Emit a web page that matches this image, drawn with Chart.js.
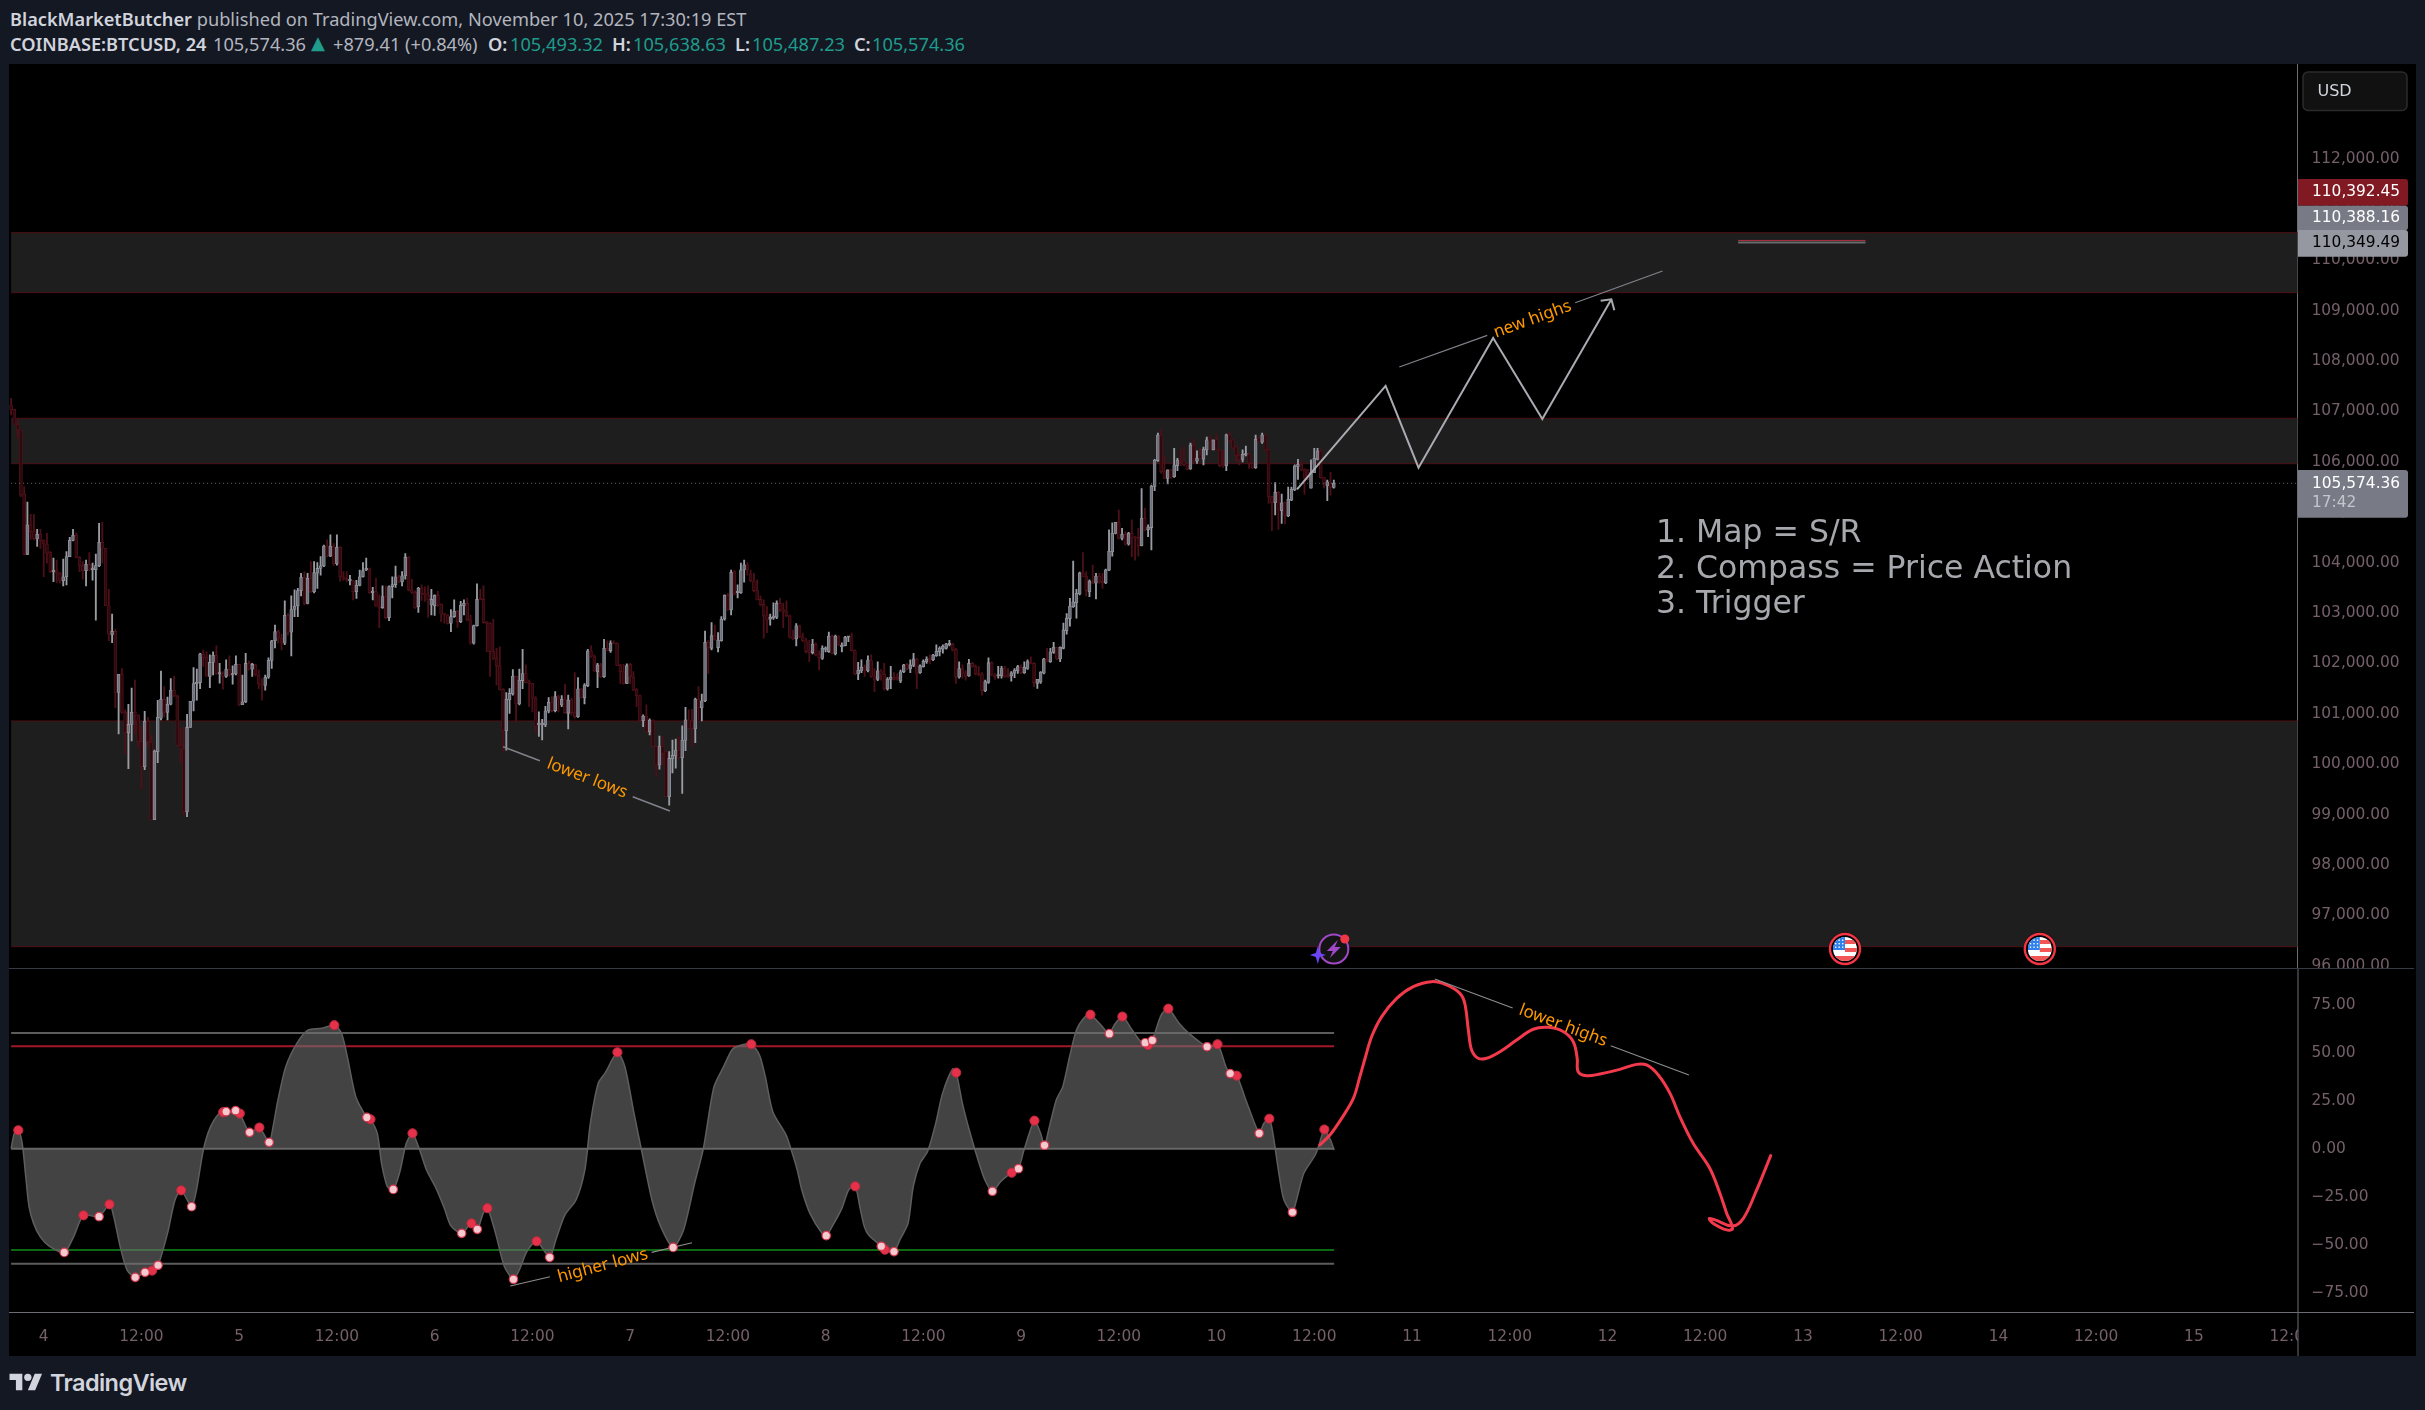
<!DOCTYPE html>
<html>
<head>
<meta charset="utf-8">
<title>BTCUSD</title>
<script src="https://cdn.jsdelivr.net/npm/chart.js@4"></script>
<style>
html, body { margin: 0; background: #141823; width: 2425px; height: 1410px; overflow: hidden; }
canvas { position: absolute; display: block; background: #000; }
.hd { position: absolute; font: 18.2px "Noto Sans"; color: #b2b5be; white-space: pre; }
.hd b { color: #d1d4dc; font-weight: 600; }
.up { color: #1f9c8b; }
#logo { position: absolute; left: 9px; top: 1370px; }
#brand { position: absolute; left: 50px; top: 1368px; font: 600 23.5px Inter; color: #d1d4dc; letter-spacing: -0.6px; }
</style>
</head>
<body>
<div class="hd" style="left:10px;top:7px"><b>BlackMarketButcher</b> published on TradingView.com, November 10, 2025 17:30:19 EST</div>
<div class="hd" style="left:10px;top:32px"><b>COINBASE:BTCUSD, 24</b></div>
<div class="hd" style="left:213px;top:32px">105,574.36</div>
<div class="hd up" style="left:311px;top:32px;font-family:'DejaVu Sans'">▲</div>
<div class="hd" style="left:333px;top:32px">+879.41 (+0.84%)</div>
<div class="hd" style="left:488px;top:32px"><b>O:</b></div>
<div class="hd up" style="left:510px;top:32px">105,493.32</div>
<div class="hd" style="left:612px;top:32px"><b>H:</b></div>
<div class="hd up" style="left:633px;top:32px">105,638.63</div>
<div class="hd" style="left:735px;top:32px"><b>L:</b></div>
<div class="hd up" style="left:752px;top:32px">105,487.23</div>
<div class="hd" style="left:854px;top:32px"><b>C:</b></div>
<div class="hd up" style="left:872px;top:32px">105,574.36</div>
<canvas id="priceChart" width="2407" height="904" style="left:9px;top:64px"></canvas>
<canvas id="oscChart" width="2407" height="388" style="left:9px;top:968px"></canvas>
<svg id="logo" width="34" height="22" viewBox="0 0 36 24" fill="#d1d4dc"><path d="M14 22H7V11H0V4h14v18zM28 22h-8l7.5-18h8L28 22z"/><circle cx="20" cy="8" r="4"/></svg>
<div id="brand">TradingView</div>
<script>
// 24 minute bars, x is the bar number counted from Nov 4 00:00
const firstBar = -10;
const opens = [
107130,107040,106745,106630,105355,104165,104750,104630,104470,104560,
104435,104370,104205,103820,103840,103795,103640,103720,104120,104440,
104540,104105,103940,103840,103965,103860,103860,103940,104405,104285,
103145,102570,102635,101425,101785,101030,100625,100790,101030,100975,
100450,99950,100850,100435,98900,100250,100910,101290,101030,101190,
101465,101355,100370,100300,99060,100730,101250,101600,101620,102190,
102120,101740,102020,102160,101790,101800,101740,101885,101770,101790,
101980,101175,101240,102000,101885,101970,101770,101590,101565,101725,
102060,102450,102630,102500,102400,102955,102620,103070,103140,103445,
103710,103190,103690,103425,103790,103885,103935,104330,104130,104330,
103975,104305,103720,103675,103640,103640,103425,103550,103720,103855,
103875,103405,103425,103145,103105,103325,102910,103525,103565,103720,
103615,103740,104105,103455,103410,103125,103490,103390,103360,103160,
103145,103350,103175,102975,102960,102795,102930,103035,102830,103146,
103190,102860,102400,102750,103270,103270,102810,102795,102235,102100,
101955,101485,100665,101275,101395,101750,101195,101660,101800,101620,
101605,101310,100780,100780,100780,101055,101230,101065,101340,101175,
101290,101010,101275,101025,100945,101495,101320,101560,102250,102145,
101835,101970,101735,102300,102255,102400,102400,101970,101835,101605,
101980,101725,101485,101360,100865,100955,100645,100875,100350,99985,
100360,100250,99355,100110,100165,100280,100130,100470,100880,100860,
100700,101295,101120,101260,102420,102300,102550,102315,102450,102880,
103350,103060,103820,103405,103405,103855,103940,103775,103640,103445,
103270,103170,102960,102880,102910,102915,103190,103070,103025,102945,
102530,102485,102745,102530,102450,102250,102215,102380,102180,102100,
102280,102235,102545,102190,102530,102330,102350,102520,102530,102255,
101790,101850,101925,101855,102055,101750,101685,101855,101785,101495,
101685,101725,101725,101650,101835,101980,101890,101960,102080,101815,
101935,102035,102100,102070,102155,102235,102285,102300,102370,102380,
102280,101725,101900,101815,101750,102000,101950,101790,101790,101460,
101625,102015,101770,101750,101750,101900,101770,101750,101805,101855,
101925,101815,101900,102015,102000,101605,101630,101805,102075,102035,
102220,102320,102090,102300,102650,102890,103125,103205,103380,103795,
103735,103425,103620,103590,103735,103610,103595,103850,104215,104580,
104800,104480,104560,104365,104580,104500,104500,104335,104880,104655,
104695,105510,106025,106530,105805,105670,105840,105705,105925,106035,
106020,105940,105860,106335,106015,106135,106055,106235,106435,106235,
106435,106235,105935,105920,106535,106435,106300,106135,106050,106135,
106150,105970,105885,106465,106390,106535,106250,105310,105190,105395,
105030,105185,104925,105240,105440,105905,105950,105850,105840,105475,
105785,106050,106215,105685,105520,105585,105493];
const highs = [
107260,107040,106860,106630,105510,105200,104960,104960,104660,104660,
104450,104580,104220,104090,104050,103800,104070,104220,104500,104660,
104590,104120,104020,104050,104200,103990,104170,104780,104800,104280,
103470,102980,102680,101780,101900,101080,101190,101510,101670,100980,
100740,101050,100930,100580,100280,101270,101850,101540,101330,101700,
101750,101370,100710,100740,100990,101250,101920,101890,102200,102270,
102230,102170,102230,102350,102000,101840,102070,102150,101950,102150,
101980,101770,102200,102050,102000,101980,101870,101700,101770,102110,
102460,102760,102660,102580,103240,102990,103340,103460,103490,103790,
103820,103790,104020,104020,104000,104120,104350,104450,104550,104380,
104550,104320,103820,103820,103750,103650,103650,103850,104000,104090,
103890,103510,103690,103360,103540,103540,103540,103720,103930,103750,
103820,104180,104120,103670,103440,103510,103560,103520,103540,103470,
103360,103430,103180,102990,102970,103070,103260,103050,103230,103260,
103290,102960,102760,103580,103470,103540,102830,102810,102880,102300,
102330,101500,101420,101500,101880,101750,101890,102280,101970,101670,
101600,101340,101040,100890,101150,101320,101340,101440,101370,101360,
101590,101370,101310,101820,101720,101500,101600,102280,102350,102170,
102000,102000,102480,102450,102450,102450,102410,101980,101980,101990,
102000,101840,101500,101370,100980,101180,100900,100880,100360,100560,
100550,100250,100250,100480,100500,100550,100760,101130,101080,101090,
101310,101540,101390,102640,102460,102810,102760,102610,102930,103360,
103390,103850,103840,103560,103990,104050,104000,103850,103790,103660,
103340,103260,103130,102980,103200,103240,103290,103190,103240,102960,
102660,102790,102760,102600,102500,102460,102480,102410,102250,102350,
102330,102620,102560,102560,102550,102410,102540,102540,102600,102270,
102020,102070,101970,102150,102170,101900,102030,101880,102000,101720,
101940,101820,101800,101870,101980,102000,102070,102200,102100,101970,
102070,102130,102170,102180,102370,102330,102370,102400,102460,102400,
102300,102030,101970,101860,102080,102020,101970,101940,101820,101670,
102110,102030,101800,101940,101940,101940,101900,101840,101900,101960,
101970,102030,102070,102130,102010,101680,101840,102100,102300,102300,
102420,102320,102330,102800,102990,103290,104030,103470,103810,104200,
103820,103660,103950,103790,103790,103790,103870,104650,104790,104800,
105040,104680,104610,104600,104850,104520,104680,105470,105080,104750,
105540,106050,106570,106645,106120,105840,105850,106270,106070,106240,
106300,105940,106370,106450,106220,106270,106290,106490,106530,106430,
106550,106250,106240,106550,106590,106450,106320,106170,106240,106310,
106170,106000,106530,106490,106570,106550,106250,105320,105590,105410,
105360,105200,105500,105500,105940,106050,106020,105860,105850,106040,
106270,106270,106250,105690,105640,105790,105640];
const lows = [
106930,106740,106470,105310,104160,104160,104460,104450,104320,104280,
103720,103990,103800,103620,103600,103590,103540,103560,104120,104430,
104100,103820,103670,103540,103840,103650,102860,103920,103990,103150,
102450,102410,101120,100600,101010,100200,99910,100460,100610,100330,
99510,99890,100350,98900,98900,100030,100880,100940,100880,101175,
101340,100370,100030,98990,98960,100730,101060,101270,101500,101940,
101740,101520,101770,101780,101610,101490,101720,101750,101590,101770,
101160,101180,101220,101870,101740,101750,101500,101270,101470,101700,
101900,102310,102400,102270,102370,102560,102150,102930,102930,103340,
103160,103180,103410,103400,103490,103750,103920,104120,104120,103950,
103950,103630,103650,103620,103560,103260,103290,103540,103710,103840,
103390,103260,103130,102710,103090,102890,102850,103300,103510,103600,
103540,103670,103440,103390,103090,103010,103250,103230,102915,102960,
102950,103130,102830,102800,102780,102630,102915,102715,102810,102960,
102850,102380,102380,102740,103260,102800,102230,101740,102080,101570,
101470,100250,100280,101010,101370,100845,101175,101500,101620,101140,
101040,100610,100550,100480,100745,101020,101040,101040,101040,101140,
101010,100700,100975,100910,100930,101310,101195,101540,102120,101840,
101520,101720,101720,102300,102220,102390,101955,101600,101590,101600,
101600,101460,101140,100845,100745,100630,100580,100350,99750,99900,
99985,99356,99190,99830,99920,100115,99420,100270,100700,100350,
100430,100880,100860,101240,101800,102270,102460,102230,102440,102860,
103050,102960,103360,103300,103390,103610,103750,103620,103420,103260,
103140,102500,102610,102760,102875,102890,103030,102710,102930,102500,
102465,102345,102510,102430,102210,102035,102190,102150,101870,102080,
102230,102220,102190,102170,102345,102230,102345,102430,102250,101770,
101680,101815,101740,101830,101720,101440,101660,101670,101470,101470,
101500,101670,101670,101620,101815,101870,101815,101935,101500,101800,
101925,102000,101990,102055,102140,102150,102205,102285,102345,102250,
101605,101705,101705,101670,101740,101925,101770,101750,101370,101440,
101605,101755,101685,101705,101705,101720,101720,101650,101715,101800,
101800,101800,101880,101990,101540,101505,101605,101790,102035,102020,
102200,102070,102035,102290,102580,102740,103110,102900,103360,103720,
103340,103325,103580,103280,103590,103490,103580,103840,104130,104570,
104470,104450,104345,104345,104120,104050,104130,104330,104635,104515,
104250,105430,106010,105770,105670,105560,105670,105690,105825,105925,
105920,105840,105850,106000,105970,106050,105940,106135,106235,106235,
106235,105905,105890,105825,106400,106255,106000,105940,106000,106115,
105870,105870,105870,106400,106365,106220,105177,104635,104945,104660,
104780,104770,104910,105230,105430,105650,105825,105360,105640,105475,
105785,106036,105670,105475,105230,105340,105475];
const closes = [
107030,106745,106630,105340,104165,104750,104615,104480,104560,104435,
104370,104185,103820,103840,103795,103635,103720,104120,104440,104540,
104105,103940,103840,103965,103855,103875,103940,104405,104285,103145,
102585,102635,101425,101785,101030,100625,100790,101030,100975,100450,
99950,100850,100450,98900,100260,100930,101290,101030,101190,101465,
101355,100370,100300,99060,100730,101250,101600,101620,102190,102120,
101760,102020,102160,101800,101800,101740,101885,101770,101800,101980,
101175,101240,102000,101885,101980,101770,101590,101565,101725,102060,
102450,102630,102500,102400,102955,102620,103070,103140,103445,103710,
103190,103690,103425,103800,103885,103935,104330,104130,104330,103975,
104305,103720,103675,103655,103655,103425,103550,103720,103840,103865,
103405,103430,103140,103105,103325,102910,103525,103565,103720,103615,
103740,104105,103455,103410,103105,103490,103390,103360,103260,103270,
103350,103175,102975,102960,102795,102930,103035,102830,103155,103193,
102860,102400,102750,103270,103260,102810,102795,102235,102100,101955,
101485,100665,101290,101405,101750,101195,101670,101800,101620,101605,
101310,100745,100800,100800,101060,101230,101065,101340,101295,101290,
101025,101275,101025,100945,101495,101325,101570,102250,102145,101850,
101970,101735,102300,102255,102400,102385,101955,101835,101605,101955,
101735,101470,101360,100860,100955,100645,100875,100350,99985,100360,
100215,99355,100115,100175,100280,100130,100480,100880,100710,100710,
101295,101120,101260,102420,102315,102550,102465,102465,102880,103350,
103060,103805,103375,103425,103855,103955,103855,103640,103445,103260,
103160,102940,102860,102915,102930,103190,103060,103025,102945,102520,
102485,102745,102530,102450,102235,102220,102380,102165,102115,102300,
102300,102545,102200,102545,102365,102365,102520,102530,102255,101790,
101870,101925,101870,102070,101740,101685,101855,101770,101495,101685,
101725,101685,101690,101835,101970,101900,101970,102090,101800,101950,
102040,102080,102070,102165,102240,102300,102340,102390,102385,102265,
101735,101900,101805,101735,102000,101935,101790,101770,101460,101640,
102015,101770,101735,101770,101900,101735,101735,101815,101870,101935,
101815,101925,102035,101990,101620,101685,101830,102090,102035,102225,
102320,102090,102320,102665,102895,103140,103220,103390,103795,103720,
103445,103635,103590,103735,103610,103600,103855,104225,104580,104800,
104480,104560,104365,104580,104500,104480,104335,104880,104650,104705,
105520,106035,106530,105805,105670,105840,105695,105940,106035,106005,
105940,105850,106335,106015,106070,106070,106250,106435,106420,106435,
106235,105925,105920,106535,106420,106270,106120,106035,106150,106150,
105970,105885,106445,106400,106535,106235,105310,105190,105395,105045,
105185,104930,105255,105455,105920,105950,105840,105675,105640,105785,
106070,106215,105685,105540,105605,105490,105574];

const priceTicks = [112000,111000,110000,109000,108000,107000,106000,105000,104000,103000,102000,101000,100000,99000,98000,97000,96000];
const oscTicks = [75,50,25,0,-25,-50,-75];
const timeTicks = [0,30,60,90,120,150,180,210,240,270,300,330,360,390,420,450,480,510,540,570,600,630,660,690];
const timeLabels = ['4','12:00','5','12:00','6','12:00','7','12:00','8','12:00','9','12:00','10','12:00','11','12:00','12','12:00','13','12:00','14','12:00','15','12:00'];

// support / resistance zones, [top, bottom]
const zones = [[110546,109356],[106864,105963],[100858,96380]];
const lastPrice = 105574.36;
const plannedHigh = 110392.45;
const plannedLow = 110349.49;
const plannedBars = [520.1,559.2];

const pathBars = [384.7,411.9,422,444.9,460,481.2];
const pathPrices = [105455,107505,105884,108457,106850,109225];
const arrowBars = [477.9,481.2,482.1];
const arrowPrices = [109195,109225,109007];
const highsTrendA = [[416.1,107882],[443.1,108510]];
const highsTrendB = [[470.1,109157],[496.9,109786]];
const lowsTrendA = [[141,100348],[152.3,100070]];
const lowsTrendB = [[180.8,99356],[192.2,99072]];
const noteLines = ['1. Map = S/R','2. Compass = Price Action','3. Trigger'];
const notePrices = [104577,103863,103168];
const noteBar = 494.9;
const eventBars = [552.9,612.7];
const alertBar = 396;

// oscillator pane
const oscBars = [-10,-9,-7.8,-6.6,-5.5,-4.5,-3.1,-1.1,1.7,6.3,9.2,12.2,17,20.2,21.5,23.6,25.6,28.1,31.1,33.3,35.1,38,40.3,42.2,45.4,46.9,49,51,53.7,56,58.9,60.2,63.2,66.2,69.2,70.4,71.8,74.3,77.7,81.1,85.3,89.2,91.4,93.2,95.8,99.2,100.3,102.4,103.7,105.5,107.3,109.2,111.3,113.2,115.4,117.5,120.2,123,125,128.3,131.3,133.1,134.9,136.2,138.7,141.4,144.2,146.2,148.3,151.3,155.3,157.2,160,163.4,166.1,167.8,170.2,172.3,176.1,178.4,181.2,183.9,186.7,189.4,193.2,196.4,199.8,202.5,205.7,208.7,211.4,214.2,217.2,219.7,221.5,223.8,227.9,229.3,231.3,232.7,235.2,238.9,240.2,242.3,245,247.1,249.1,250.5,251.9,253.2,257.1,258.2,261,262.8,265.3,266.9,269,271.3,273.8,275.9,279,280.1,282,284.1,286.8,288.9,291.2,293.7,297.1,299.2,300.9,304.1,306,307.2,308.7,310.8,312.8,314.9,317,319.7,321.3,324.5,327.1,328.6,331.1,334.1,336.8,339,340.3,343,345.2,348.5,351.2,357.1,360.3,362.9,364.2,366.2,369,373.1,374.5,376.2,377.3,379.3,380.7,383.3,384.8,386.8,390.3,391.6,393.1,395,396.1];
const oscValues = [0.2,8,9.6,2.8,-14.6,-30.2,-38.9,-45.8,-50.7,-54,-45.8,-34.7,-35.4,-29,-35.4,-51.9,-63.2,-67,-64.4,-63.5,-60.7,-44.1,-26.7,-21.7,-30.2,-21.5,-0.7,10.6,18.1,19.3,19.8,18.3,8.5,11,3.3,11.5,24.5,42.7,54.9,61.8,62.7,64.3,60.1,47.9,27.1,16.3,15.3,8,-7.6,-19.8,-21.2,-12.8,2.8,8,-0.7,-11.1,-19.8,-31.1,-40.2,-44.1,-38.9,-42,-33.7,-31,-44.1,-61.4,-68,-62.3,-53.6,-48.2,-56.6,-47.5,-34.5,-26.7,-11.1,13.2,34.1,39.3,50.2,42.7,18.4,-4.1,-26.7,-40.6,-51.4,-42.3,-18,0.2,32,42.7,51.8,54,54.4,48.8,37.5,19.3,7.1,0.2,-11.1,-21.5,-33.7,-44.1,-45.3,-39.7,-31.1,-21.5,-19.6,-30.2,-40.6,-45,-50.8,-52.6,-53.6,-47.5,-38.9,-19.8,-7.6,-1.5,13.2,28.8,41.5,39.6,23.6,9.7,-5.9,-16.3,-22.2,-17.2,-12.5,-10.4,-0.7,14.6,8,1.8,11.5,25.4,32.3,47.9,61.8,68.8,69.8,64.4,59.9,64.4,68.8,61.8,55.7,54,56.4,69.6,72.9,65.3,60.6,53.1,54.4,42.7,39.1,38,25.4,8,13.2,15.6,8,-14.6,-26.7,-33.1,-25,-12.8,-3.3,2.8,10,4.5,-0.7];
const pivotHighBars = [-7.8,12.2,20.2,33.3,42.2,55.1,60.2,66.2,89.2,100.3,113.2,131.3,136.2,151.3,176.1,217.2,249.1,258.2,280.1,297.1,304.1,321.3,331.1,339,345.2,360.3,366.2,376.2,393.1];
const pivotHighValues = [9.6,-34.7,-29,-63.5,-21.7,19,18.3,11,64.3,15.3,8,-38.9,-31,-48.2,50.2,54.4,-19.6,-52.6,39.6,-12.5,14.6,69.8,68.8,54,72.9,54.4,38,15.6,10];
const pivotLowBars = [6.3,17,28.1,31.1,35.1,45.4,56,58.9,63.2,69.2,99.2,107.3,128.3,133.1,144.2,155.3,193.2,240.2,257.1,261,291.2,299.2,307.2,327.1,338.1,340.3,357.1,364.2,373.1,383.3];
const pivotLowValues = [-54,-35.4,-67,-64.4,-60.7,-30.2,19.3,19.8,8.5,3.3,16.3,-21.2,-44.1,-42,-68,-56.6,-51.4,-45.3,-50.8,-53.6,-22.2,-10.4,1.8,59.9,55.2,56.4,53.1,39.1,8,-33.1];
const levelUpper = 60.2;
const levelOverbought = 53.3;
const levelOversold = -52.7;
const levelLower = -59.9;
const sketchBars = [391.7,394.8,398.4,402,404,405.6,407.6,410.7,415.3,420.4,426,430.6,434.7,436.2,437.3,438.3,440.3,442.9,447,452.1,457.2,461.8,466.4,469.5,470.7,471,473.6,477.7,483.8,488.9,492,495.6,499.2,502.2,506.3,511.4,514.5,516.6,518.4,516.6,512.5,511.2,513,518.4,521.7,525.8,530.1];
const sketchValues = [1.9,7.1,15.8,26.2,37.5,47.1,58.3,68.8,78.3,84.4,87,85.3,80.9,75.7,61.8,51.4,47.1,47.1,50.5,56.6,62.2,63.2,61,55.7,47.1,40.1,38,38.9,41.3,43.9,43.6,38.4,28.8,16.7,2.8,-10.2,-23.2,-33.7,-41.5,-42.3,-38.9,-36.3,-37.1,-40.3,-36.3,-21.5,-3.6];
const oscTrendA = [[143.2,-71.5],[155.4,-66.7]];
const oscTrendB = [[186.6,-54],[199,-49]];
const oscTrendC = [[427,88.4],[450.9,73.3]];
const oscTrendD = [[481,53.6],[505,38.4]];

const xMin = -10.65, xMax = 691.8;
const axisWidth = 118.5;
const tickColor = '#75606a';
const upWick = '#9a9ca3', downWick = '#4b1018';
const upBody = '#6f727c', upEdge = '#92959d', downBody = '#2c0a0f', downEdge = '#561219';
const mono = '"DejaVu Sans"';
Chart.defaults.font.family = mono;
Chart.defaults.font.size = 15.4;
Chart.defaults.color = tickColor;

const zip = (xs, ys) => xs.map((x, i) => ({x, y: ys[i]}));
const seg = (pts, color, width) => ({
  type: 'line', data: pts.map(p => ({x: p[0], y: p[1]})), borderColor: color, borderWidth: width,
  pointRadius: 0, fill: false, tension: 0, order: 1
});
const hline = (y, from, to, color, width, order, dash) => ({
  type: 'line', data: [{x: from, y}, {x: to, y}], borderColor: color, borderWidth: width,
  borderDash: dash || [], pointRadius: 0, fill: false, order: order
});
const up = i => closes[i] >= opens[i];

// the layout keeps a margin for the tick labels, the panes must fill the canvas exactly
const pinArea = bottomHeight => ({
  id: 'pinArea',
  afterLayout(chart) {
    const a = chart.chartArea, {x, y} = chart.scales;
    const w = chart.width, h = chart.height;
    a.left = 0; a.top = 0; a.right = w - axisWidth; a.bottom = h - bottomHeight;
    a.width = a.right; a.height = a.bottom;
    x.left = 0; x.right = a.right; x.width = a.right; x.top = a.bottom; x.bottom = h; x.height = bottomHeight;
    y.left = a.right; y.right = w; y.width = axisWidth; y.top = 0; y.bottom = a.bottom; y.height = a.bottom;
    x.configure();
    y.configure();
  }
});

function label(ctx, chart, text, bar, value, deg) {
  const x = chart.scales.x.getPixelForValue(bar), y = chart.scales.y.getPixelForValue(value);
  ctx.save();
  ctx.translate(x, y);
  ctx.rotate(deg * Math.PI / 180);
  ctx.font = '17px "Noto Sans"';
  ctx.fillStyle = '#ff9800';
  ctx.textAlign = 'center';
  ctx.textBaseline = 'middle';
  ctx.fillText(text, 0, 0);
  ctx.restore();
}
function tag(ctx, x, top, h, bg, fg, text, w) {
  ctx.fillStyle = bg;
  ctx.beginPath();
  ctx.roundRect(x, top, w, h, [0, 3, 3, 0]);
  ctx.fill();
  ctx.fillStyle = fg;
  ctx.textBaseline = 'middle';
  ctx.textAlign = 'left';
  ctx.font = '15.4px ' + mono;
  ctx.fillText(text, x + 14, top + h / 2);
}
function flagIcon(ctx, x, y) {
  ctx.save();
  ctx.beginPath(); ctx.arc(x, y, 16.5, 0, 7); ctx.fillStyle = '#000'; ctx.fill();
  ctx.beginPath(); ctx.arc(x, y, 15, 0, 7); ctx.strokeStyle = '#f23645'; ctx.lineWidth = 2.4; ctx.stroke();
  ctx.beginPath(); ctx.arc(x, y, 12, 0, 7); ctx.clip();
  ctx.fillStyle = '#fff'; ctx.fillRect(x - 12, y - 12, 24, 24);
  ctx.fillStyle = '#f25555';
  ctx.fillRect(x, y - 9, 12, 4); ctx.fillRect(x, y - 1, 12, 4); ctx.fillRect(x - 12, y + 7, 24, 5);
  ctx.fillStyle = '#2f80ed'; ctx.fillRect(x - 12, y - 12, 12, 13);
  ctx.fillStyle = '#fff';
  for (let a = 0; a < 3; a++) for (let b = 0; b < 3; b++) ctx.fillRect(x - 10 + a * 3.5, y - 9.5 + b * 3.5, 1.4, 1.4);
  ctx.restore();
}
function alertIcon(ctx, x, y) {
  ctx.save();
  ctx.beginPath(); ctx.arc(x, y, 15.5, 0, 7); ctx.fillStyle = '#141414'; ctx.fill();
  ctx.beginPath(); ctx.arc(x, y, 14.5, 0, 7); ctx.strokeStyle = '#a048c8'; ctx.lineWidth = 2; ctx.stroke();
  ctx.fillStyle = '#a048c8';
  ctx.beginPath();
  ctx.moveTo(x + 4, y - 9); ctx.lineTo(x - 7, y + 2); ctx.lineTo(x - 1, y + 2);
  ctx.lineTo(x - 4, y + 9); ctx.lineTo(x + 7, y - 2); ctx.lineTo(x + 1, y - 2);
  ctx.closePath(); ctx.fill();
  ctx.fillStyle = '#6a45f5';
  ctx.beginPath();
  const sx = x - 16, sy = y + 6;
  ctx.moveTo(sx, sy - 9); ctx.lineTo(sx + 2, sy - 2); ctx.lineTo(sx + 8, sy);
  ctx.lineTo(sx + 2, sy + 2); ctx.lineTo(sx, sy + 9); ctx.lineTo(sx - 2, sy + 2);
  ctx.lineTo(sx - 8, sy); ctx.lineTo(sx - 2, sy - 2);
  ctx.closePath(); ctx.fill();
  ctx.beginPath(); ctx.arc(x + 11, y - 10, 4.5, 0, 7); ctx.fillStyle = '#f23645'; ctx.fill();
  ctx.restore();
}

const pricePlugin = {
  id: 'pricePane',
  beforeDatasetsDraw(chart) {
    const {ctx, chartArea, scales} = chart;
    const left = scales.x.getPixelForValue(firstBar);
    zones.forEach(z => {
      const t = scales.y.getPixelForValue(z[0]), b = scales.y.getPixelForValue(z[1]);
      ctx.fillStyle = '#1e1e1e';
      ctx.fillRect(left, t, chartArea.right - left, b - t);
      ctx.fillStyle = '#4e1016';
      ctx.fillRect(left, t - 0.5, chartArea.right - left, 1);
      ctx.fillRect(left, b - 0.5, chartArea.right - left, 1);
    });
  },
  afterDatasetsDraw(chart) {
    const {ctx, scales} = chart;
    label(ctx, chart, 'new highs', 457, 108828, -20);
    label(ctx, chart, 'lower lows', 166.8, 99721, 21);
    ctx.save();
    ctx.font = '31.5px ' + mono;
    ctx.fillStyle = '#a6a8ad';
    ctx.textBaseline = 'middle';
    noteLines.forEach((t, i) => ctx.fillText(t, scales.x.getPixelForValue(noteBar), scales.y.getPixelForValue(notePrices[i])));
    ctx.restore();
    const iconY = 885;
    alertIcon(ctx, scales.x.getPixelForValue(alertBar), iconY);
    eventBars.forEach(b => flagIcon(ctx, scales.x.getPixelForValue(b), iconY));
  },
  afterDraw(chart) {
    const {ctx, chartArea} = chart;
    const x = chartArea.right + 0.5;
    ctx.save();
    tag(ctx, x, 115, 26.7, '#801922', '#fff', '110,392.45', 110);
    tag(ctx, x, 141.7, 24.5, '#787b86', '#fff', '110,388.16', 110);
    tag(ctx, x, 166, 26.7, '#9598a1', '#000', '110,349.49', 110);
    // last price with countdown
    ctx.fillStyle = '#787b86';
    ctx.beginPath(); ctx.roundRect(x, 406, 110, 47.7, [0, 3, 3, 0]); ctx.fill();
    ctx.fillStyle = '#fff'; ctx.textBaseline = 'middle'; ctx.textAlign = 'left';
    ctx.font = '15.4px ' + mono;
    ctx.fillText('105,574.36', x + 14, 419.5);
    ctx.fillStyle = '#c4c6cc';
    ctx.fillText('17:42', x + 14, 439);
    // currency box
    ctx.fillStyle = '#111';
    ctx.strokeStyle = '#2b2b2b';
    ctx.lineWidth = 1.5;
    ctx.beginPath(); ctx.roundRect(x + 5, 8, 104, 38.5, 5); ctx.fill(); ctx.stroke();
    ctx.fillStyle = '#d1d4dc';
    ctx.font = '16px ' + mono;
    ctx.fillText('USD', x + 19.5, 27.5);
    ctx.restore();
  }
};

const oscPlugin = {
  id: 'oscPane',
  afterDatasetsDraw(chart) {
    const ctx = chart.ctx;
    label(ctx, chart, 'higher lows', 171.6, -60.9, -15);
    label(ctx, chart, 'lower highs', 466.4, 64.1, 20.5);
  },
  afterDraw(chart) {
    const {ctx, chartArea, width, height} = chart;
    ctx.save();
    ctx.fillStyle = '#000';
    ctx.fillRect(chartArea.right + 0.5, chartArea.bottom + 1, width, height);
    ctx.fillStyle = '#6a6d75';
    ctx.fillRect(chartArea.right, 0, 1, height);
    ctx.fillRect(0, chartArea.bottom, width - 2, 1);
    ctx.fillStyle = '#363a45';
    ctx.fillRect(0, 0, width - 2, 1);
    ctx.restore();
  }
};

const xScale = show => ({
  type: 'linear', min: xMin, max: xMax, display: show, offset: false,
  grid: {display: false}, border: {display: false},
  afterBuildTicks: s => { s.ticks = timeTicks.map(v => ({value: v})); },
  ticks: {
    autoSkip: false, maxRotation: 0, padding: 8, color: tickColor,
    callback: v => timeLabels[timeTicks.indexOf(v)]
  }
});

new Chart('priceChart', {
  type: 'bar',
  plugins: [pinArea(0), pricePlugin],
  data: {
    datasets: [
      {
        data: highs.map((h, i) => ({x: firstBar + i, y: [lows[i], h]})),
        backgroundColor: highs.map((h, i) => up(i) ? upWick : downWick),
        barThickness: 1.2, grouped: false, order: 6
      },
      {
        data: opens.map((o, i) => ({x: firstBar + i, y: [o, closes[i]]})),
        backgroundColor: opens.map((o, i) => up(i) ? upBody : downBody),
        borderColor: opens.map((o, i) => up(i) ? upEdge : downEdge),
        borderWidth: 0.8, borderSkipped: false, barThickness: 3, minBarLength: 1.5, grouped: false, order: 5
      },
      hline(lastPrice, firstBar, xMax, '#6f6f6f', 1, 4, [1, 3]),
      hline(plannedHigh, plannedBars[0], plannedBars[1], '#b03040', 1, 2),
      hline(plannedLow, plannedBars[0], plannedBars[1], '#6a6a6a', 2, 3),
      {type: 'line', data: zip(pathBars, pathPrices), borderColor: '#a9abb0', borderWidth: 2, pointRadius: 0, fill: false, tension: 0, order: 1},
      {type: 'line', data: zip(arrowBars, arrowPrices), borderColor: '#a9abb0', borderWidth: 2, pointRadius: 0, fill: false, tension: 0, order: 1},
      seg(highsTrendA, '#80828a', 1.2),
      seg(highsTrendB, '#80828a', 1.2),
      seg(lowsTrendA, '#80828a', 1.5),
      seg(lowsTrendB, '#80828a', 1.5)
    ]
  },
  options: {
    responsive: false, animation: false, devicePixelRatio: 1,
    layout: {padding: 0},
    plugins: {legend: {display: false}, tooltip: {enabled: false}},
    scales: {
      x: xScale(false),
      y: {
        type: 'linear', position: 'right', min: 95957, max: 113893,
        grid: {display: false},
        border: {display: true, color: '#6a6d75', width: 1},
        afterBuildTicks: s => { s.ticks = priceTicks.map(v => ({value: v})); },
        ticks: {
          autoSkip: false, crossAlign: 'near', padding: 6, color: tickColor,
          callback: v => v.toLocaleString('en-US', {minimumFractionDigits: 2})
        }
      }
    }
  }
});

new Chart('oscChart', {
  type: 'line',
  plugins: [pinArea(44), oscPlugin],
  data: {
    datasets: [
      hline(levelUpper, firstBar, 396.1, '#5c5c5c', 2, 7),
      hline(levelOverbought, firstBar, 396.1, '#a01828', 2, 7),
      hline(levelOversold, firstBar, 396.1, '#0b6a12', 2, 7),
      hline(levelLower, firstBar, 396.1, '#5c5c5c', 2, 7),
      {
        data: zip(oscBars, oscValues), borderColor: '#5e5e5e', borderWidth: 1.5,
        backgroundColor: 'rgba(112,112,112,0.6)', fill: {value: 0}, pointRadius: 0, tension: 0.25, order: 6
      },
      hline(0, firstBar, 396.1, '#666666', 2, 5),
      {
        data: zip(sketchBars, sketchValues), borderColor: '#f23a4c', borderWidth: 3, pointRadius: 0,
        fill: false, tension: 0.35, borderCapStyle: 'round', order: 4
      },
      {
        data: zip(pivotHighBars, pivotHighValues), showLine: false, pointRadius: 4.6,
        pointBackgroundColor: '#e5314a', pointBorderColor: '#b52a3c', pointBorderWidth: 1, order: 2
      },
      {
        data: zip(pivotLowBars, pivotLowValues), showLine: false, pointRadius: 4.2,
        pointBackgroundColor: '#f4c9d0', pointBorderColor: '#d83a50', pointBorderWidth: 1.2, order: 1
      },
      seg(oscTrendA, '#8c8c8c', 1.2),
      seg(oscTrendB, '#8c8c8c', 1.2),
      seg(oscTrendC, '#8c8c8c', 1.2),
      seg(oscTrendD, '#8c8c8c', 1.2)
    ]
  },
  options: {
    responsive: false, animation: false, devicePixelRatio: 1,
    layout: {padding: 0},
    plugins: {legend: {display: false}, tooltip: {enabled: false}},
    scales: {
      x: xScale(true),
      y: {
        type: 'linear', position: 'right', min: -85.05, max: 94.1,
        grid: {display: false},
        border: {display: false},
        afterBuildTicks: s => { s.ticks = oscTicks.map(v => ({value: v})); },
        ticks: {
          autoSkip: false, crossAlign: 'near', padding: 6, color: tickColor,
          callback: v => v.toFixed(2).replace('-', '\u2212')
        }
      }
    }
  }
});
</script>
</body>
</html>
